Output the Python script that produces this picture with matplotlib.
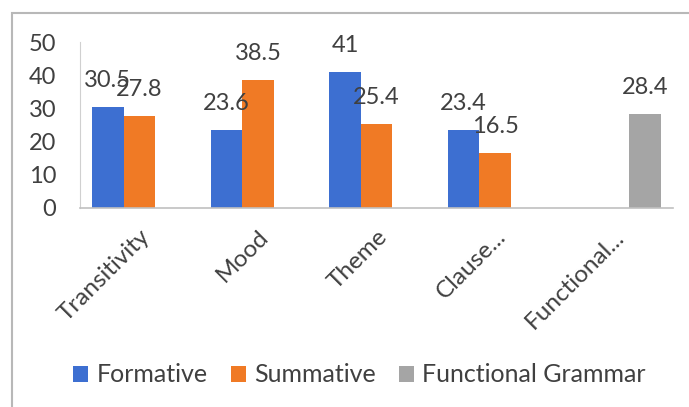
import numpy as np
import matplotlib.pyplot as plt
from matplotlib.patches import Rectangle

# chart data
categories = ['Transitivity', 'Mood', 'Theme', 'Clause...', 'Functional...']
formative = [30.5, 23.6, 41, 23.4, np.nan]
summative = [27.8, 38.5, 25.4, 16.5, np.nan]
functional_grammar = [np.nan, np.nan, np.nan, np.nan, 28.4]
series_names = ['Formative', 'Summative', 'Functional Grammar']
y_ticks = [0, 10, 20, 30, 40, 50]

colors = ['#3d6fd1', '#f07a25', '#a5a5a5']

plt.rcParams['font.family'] = ['Lato', 'DejaVu Sans']

fig = plt.figure(figsize=(6.89, 4.07), dpi=100)
ax = fig.add_axes([80 / 689, 1 - 208 / 407, 593 / 689, 166 / 407])

# light chart-area border
fig.patches.append(Rectangle((12 / 689, -0.1), 1.2, 1 - 13 / 407 + 0.1,
                             transform=fig.transFigure, fill=False,
                             edgecolor='#b8b8b8', linewidth=1.5))

x = np.arange(len(categories))
width = 0.265
all_series = [formative, summative, functional_grammar]

for i, (vals, name, col) in enumerate(zip(all_series, series_names, colors)):
    pos = x + (i - 1) * width
    ax.bar(pos, vals, width, color=col, label=name)
    for px, v in zip(pos, vals):
        if np.isnan(v):
            continue
        ax.annotate(f'{v:g}', (px, v), xytext=(0, 19), textcoords='offset points',
                    ha='center', va='center', fontsize=17, color='#404040')

ax.set_xlim(-0.5, len(categories) - 0.5)
ax.set_ylim(0, 50)
ax.set_yticks(y_ticks)
ax.set_xticks(x)
ax.set_xticklabels(categories, rotation=45, ha='right', rotation_mode='anchor')
ax.tick_params(axis='y', length=0, pad=17, labelsize=17, labelcolor='#404040')
ax.tick_params(axis='x', length=0, pad=13, labelsize=17.5, labelcolor='#404040')

for s in ['top', 'right']:
    ax.spines[s].set_visible(False)
ax.spines['left'].set_color('#d0d0d0')
ax.spines['bottom'].set_color('#c0c0c0')
ax.spines['bottom'].set_linewidth(1.2)

fig.legend(loc='center', bbox_to_anchor=(0.522, 1 - 375 / 407), ncol=3,
           frameon=False, fontsize=18, handlelength=0.6, handleheight=0.6,
           handletextpad=0.35, columnspacing=0.9, labelcolor='#404040')

fig.savefig('out.png', dpi=100)
